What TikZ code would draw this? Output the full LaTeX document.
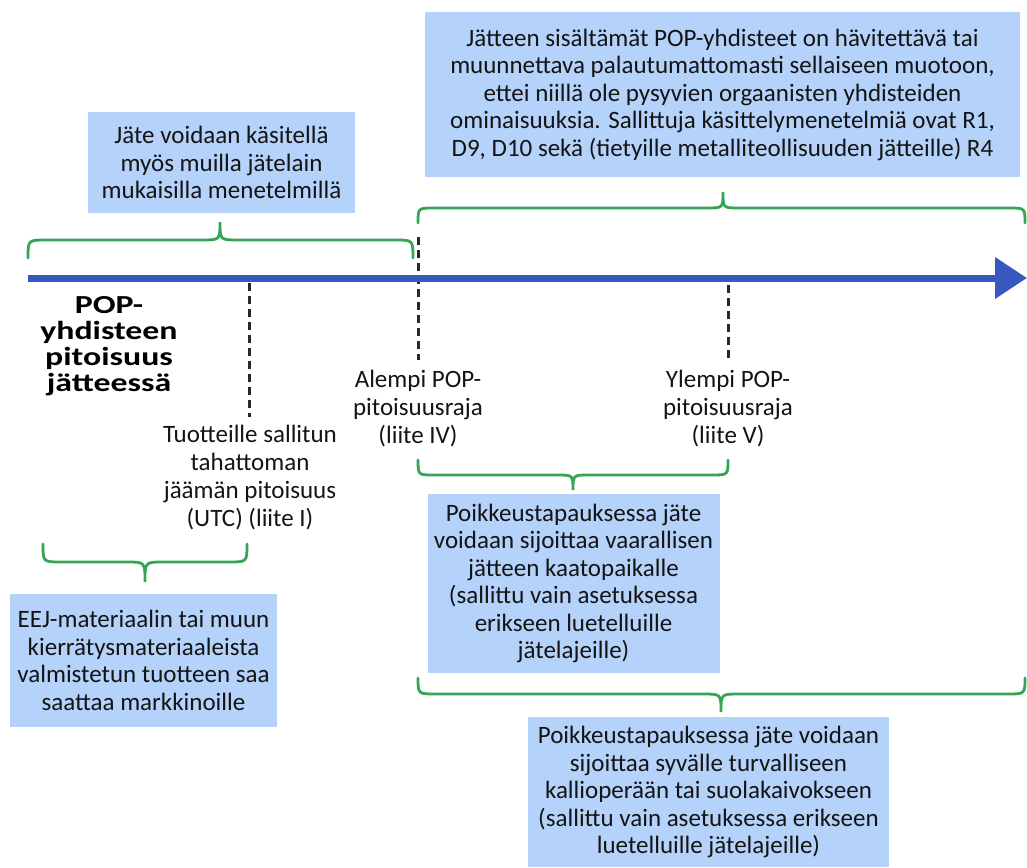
\documentclass[tikz,border=0pt]{standalone}
\usepackage{fontspec}
\setmainfont{Carlito}
\newfontfamily\popbold{Carlito}[FakeStretch=1.3]
\usetikzlibrary{arrows.meta}
\definecolor{boxblue}{RGB}{180,210,250}
\definecolor{bracegreen}{RGB}{52,165,85}
\definecolor{axisblue}{RGB}{55,88,190}
\definecolor{dashgray}{RGB}{40,40,40}
\definecolor{txt}{RGB}{20,20,20}
\newcommand\curlybr[7]{% xL xR xt ye yh yt r
  \draw[brace] (#1,#4) .. controls (#1,#5) and (#1,#5) .. ({#1+#7},#5) -- ({#3-#7},#5)
    .. controls (#3,#5) and (#3,#5) .. (#3,#6)
    .. controls (#3,#5) and (#3,#5) .. ({#3+#7},#5) -- ({#2-#7},#5)
    .. controls (#2,#5) and (#2,#5) .. (#2,#4);}
\begin{document}
\begin{tikzpicture}[x=1pt,y=-1pt,
  box/.style={fill=boxblue, draw=none, inner sep=0pt, align=center, text=txt, font=\fontsize{25}{27.5}\selectfont},
  lbl/.style={inner sep=0pt, align=center, text=txt, font=\fontsize{25}{28}\selectfont},
  boldlbl/.style={inner sep=0pt, align=center, text=black, font=\popbold\fontsize{26}{26}\selectfont\bfseries},
  brace/.style={draw=bracegreen, line width=2.8pt, line cap=round},
  guide/.style={draw=dashgray, line width=3pt, dash pattern=on 8pt off 5pt},
  axisline/.style={draw=axisblue, line width=7pt, -{Triangle[length=32pt,width=40pt]}}]
\useasboundingbox (0,0) rectangle (1027,867);

% boxes
\node[box, minimum width=595pt, minimum height=165pt] (tr) at (722.5,94.5)
  {Jätteen sisältämät POP-yhdisteet on hävitettävä tai\\
   muunnettava palautumattomasti sellaiseen muotoon,\\
   ettei niillä ole pysyvien orgaanisten yhdisteiden\\
   ominaisuuksia. Sallittuja käsittelymenetelmiä ovat R1,\\
   D9, D10 sekä (tietyille metalliteollisuuden jätteille) R4};
\node[box, minimum width=267pt, minimum height=101pt] (tl) at (221.5,162.5)
  {Jäte voidaan käsitellä\\ myös muilla jätelain\\ mukaisilla menetelmillä};
\node[box, minimum width=267pt, minimum height=133pt] (eej) at (143.5,660.5)
  {EEJ-materiaalin tai muun\\ kierrätysmateriaaleista\\ valmistetun tuotteen saa\\ saattaa markkinoille};
\node[box, minimum width=292pt, minimum height=179pt] (mid) at (573.5,583.5)
  {Poikkeustapauksessa jäte\\ voidaan sijoittaa vaarallisen\\ jätteen kaatopaikalle\\ (sallittu vain asetuksessa\\ erikseen luetelluille\\ jätelajeille)};
\node[box, minimum width=361pt, minimum height=150pt] (bot) at (708.5,792)
  {Poikkeustapauksessa jäte voidaan\\ sijoittaa syvälle turvalliseen\\ kallioperään tai suolakaivokseen\\ (sallittu vain asetuksessa erikseen\\ luetelluille jätelajeille)};

% labels
\node[boldlbl] (pop) at (109,346) {POP-\\yhdisteen\\pitoisuus\\jätteessä};
\node[lbl] (tuot) at (250,477.5) {Tuotteille sallitun\\ tahattoman\\ jäämän pitoisuus\\ (UTC) (liite I)};
\node[lbl] (alempi) at (418,409) {Alempi POP-\\ pitoisuusraja\\ (liite IV)};
\node[lbl] (ylempi) at (728,409) {Ylempi POP-\\ pitoisuusraja\\ (liite V)};

% dashed guides
\coordinate (d1a) at (249,283); \coordinate (d1b) at (249,417);
\coordinate (d2a) at (418,237); \coordinate (d2b) at (418,360);
\coordinate (d3a) at (728,285); \coordinate (d3b) at (728,360);
\draw[guide] (d1a) -- (d1b);
\draw[guide] (d2a) -- (d2b);
\draw[guide] (d3a) -- (d3b);

% axis
\coordinate (ax0) at (28,278); \coordinate (ax1) at (1027,278);
\draw[axisline] (ax0) -- (ax1);

% braces
\curlybr{28}{413}{220}{258}{240}{222}{18}
\curlybr{418}{1025}{723}{223}{208}{192}{16}
\curlybr{418}{728}{573}{460}{475}{490}{16}
\curlybr{418}{1025}{721}{678}{694}{712}{18}
\curlybr{43}{247}{145}{544}{562}{582}{18}
\end{tikzpicture}
\end{document}
